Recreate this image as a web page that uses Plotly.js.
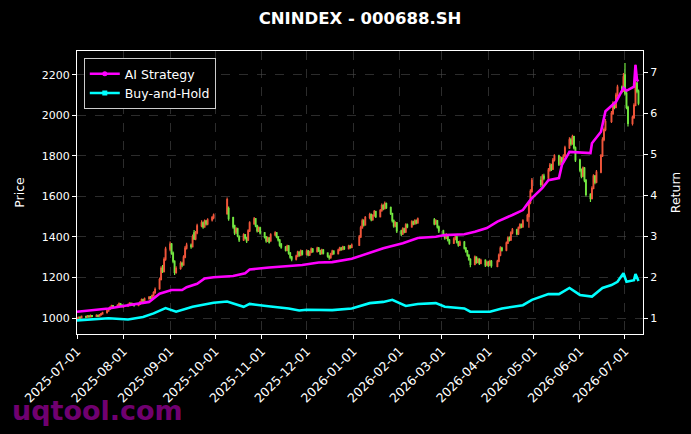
<!DOCTYPE html>
<html>
<head>
<meta charset="utf-8">
<script src="https://cdn.plot.ly/plotly-3.0.1.min.js"></script>
<style>html,body{margin:0;padding:0;background:#000;}#chart{width:691px;height:434px;}</style>
</head>
<body>
<div id="chart"></div>
<script>
// ---- Data ----
const firstDay = '2025-07-01';
const lastDay = '2026-07-10';
const holidays = ['2025-10-01','2025-10-02','2025-10-03','2025-10-06','2025-10-07','2025-10-08',
  '2026-01-01','2026-01-02','2026-02-16','2026-02-17','2026-02-18','2026-02-19','2026-02-20','2026-02-23',
  '2026-04-06','2026-05-01','2026-05-04','2026-05-05','2026-06-19'];

const openPx = [
995,998,1004,1000,1008,1004,1010,1006,1012,1008,1013,1009,1015,1020,1026,1035,1045,1052,1060,1055,1062,1070,1064,
1058,1060,1066,1072,1065,1070,1062,1068,1078,1090,1085,1095,1102,1098,1110,1125,1145,1190,1245,1230,1290,
1340,1365,1320,1280,1225,1245,1270,1262,1300,1345,1360,1352,1420,1390,1420,1455,1470,1450,1478,1465,1484,1495,
1515,1540,1495,1455,1425,1440,1400,1385,1410,1395,1385,1430,1465,1490,1455,1430,1445,
1420,1400,1380,1395,1380,1410,1420,1400,1385,1365,1350,1335,1355,1320,1300,1290,1305,1325,1310,1330,
1315,1330,1312,1325,1340,1328,1345,1332,1318,1335,1320,1305,1298,1315,1330,1318,1335,1345,1338,1350,1342,1355,1348,
1360,1400,1445,1480,1460,1495,1510,1485,1505,1525,1500,1530,1555,1540,1565,1545,1515,1480,1455,1470,
1430,1415,1440,1425,1460,1450,1475,1465,1480,1470,1485,1465,1480,1450,
1430,1410,1395,1410,1385,1370,1390,1400,1375,1360,1375,1345,1330,1310,1290,1265,1300,1275,1290,1270,1285,1262,
1275,1262,1280,1255,1280,1310,1345,1335,1370,1395,1385,1420,1435,1415,1445,1460,1450,1480,1500,1570,1625,
1680,1660,1700,1690,1730,1755,1735,1780,1800,1760,1790,1770,1800,1840,1880,1860,1895,1840,
1780,1730,1700,1740,1680,1610,1590,1640,1700,1670,1720,1800,1880,1930,1970,2010,2060,2040,2100,2140,2120,
2200,2110,2040,1960,1990,2050,2160,2120];

const highPx = [
1004,1008,1007,1012,1011,1015,1013,1017,1015,1018,1016,1020,1025,1031,1040,1050,1058,1066,1064,1068,1076,1074,1068,
1066,1072,1078,1076,1075,1073,1074,1084,1096,1095,1101,1108,1108,1116,1132,1150,1200,1255,1262,1300,1352,
1378,1370,1328,1285,1256,1280,1278,1310,1356,1372,1368,1412,1435,1430,1465,1482,1476,1486,1484,1492,1503,1516,
1595,1550,1500,1460,1448,1445,1408,1418,1415,1400,1438,1478,1498,1494,1460,1452,1450,
1425,1405,1402,1400,1418,1428,1425,1405,1390,1370,1356,1362,1360,1326,1306,1312,1332,1330,1338,1336,
1338,1336,1332,1348,1346,1352,1350,1337,1342,1340,1325,1310,1322,1337,1335,1342,1352,1350,1357,1355,1362,1360,1368,
1410,1455,1490,1488,1504,1520,1516,1512,1533,1530,1538,1565,1562,1575,1570,1550,1520,1486,1478,1474,
1436,1448,1446,1468,1466,1482,1480,1488,1486,1496,1494,1488,1484,1456,
1436,1416,1418,1415,1390,1398,1408,1405,1380,1382,1380,1350,1336,1315,1295,1308,1305,1297,1295,1292,1290,1282,
1282,1288,1286,1288,1318,1354,1352,1378,1404,1402,1428,1444,1440,1452,1468,1466,1488,1515,1578,1635,1691,
1700,1710,1712,1740,1765,1762,1790,1808,1806,1798,1796,1808,1850,1892,1890,1905,1900,1846,
1786,1738,1748,1745,1686,1616,1650,1710,1706,1730,1810,1892,1940,1982,2022,2070,2068,2112,2152,2148,2210,
2259,2118,2048,2000,2060,2250,2168,2128];

const lowPx = [
990,994,995,997,999,1001,1002,1003,1004,1005,1005,1006,1011,1016,1022,1031,1040,1048,1050,1051,1058,1059,1052,
1050,1055,1061,1060,1060,1056,1058,1064,1074,1078,1080,1090,1092,1094,1105,1120,1140,1185,1222,1225,1282,
1330,1312,1270,1212,1218,1238,1250,1258,1295,1338,1342,1348,1385,1384,1414,1448,1440,1445,1456,1458,1476,1488,
1510,1480,1440,1410,1415,1398,1375,1380,1388,1370,1380,1425,1460,1448,1422,1425,1412,
1392,1372,1375,1368,1376,1404,1394,1378,1352,1342,1328,1330,1312,1292,1280,1284,1300,1302,1305,1308,
1309,1305,1306,1320,1322,1323,1326,1311,1313,1314,1298,1288,1293,1310,1312,1313,1330,1332,1334,1336,1338,1342,1344,
1355,1395,1440,1452,1455,1488,1478,1480,1500,1494,1496,1525,1532,1535,1538,1508,1472,1446,1448,1420,
1405,1410,1418,1420,1443,1445,1458,1460,1463,1465,1458,1460,1442,1420,
1402,1386,1390,1378,1362,1365,1384,1368,1352,1355,1338,1322,1302,1282,1250,1260,1268,1270,1262,1265,1252,1256,
1252,1256,1248,1250,1275,1305,1328,1330,1365,1378,1380,1414,1408,1410,1440,1443,1446,1475,1445,1562,1618,
1645,1652,1680,1684,1722,1726,1730,1772,1750,1754,1760,1765,1795,1834,1850,1855,1832,1770,
1720,1690,1695,1670,1600,1573,1585,1635,1660,1665,1715,1795,1872,1922,1962,2002,2030,2035,2092,2110,2115,
2100,2030,1945,1950,1982,2045,2110,2050];

const closePx = [
998,1003,1000,1008,1004,1010,1006,1012,1008,1013,1009,1015,1020,1026,1035,1045,1052,1060,1055,1062,1070,1064,1058,
1060,1066,1072,1065,1070,1062,1068,1078,1090,1085,1095,1102,1098,1110,1125,1140,1190,1245,1230,1290,1340,
1365,1320,1280,1225,1245,1270,1262,1300,1345,1360,1352,1400,1390,1420,1455,1470,1450,1478,1465,1484,1495,1508,
1585,1490,1450,1420,1440,1405,1385,1410,1395,1380,1430,1470,1490,1455,1430,1445,1420,
1400,1380,1395,1375,1410,1420,1400,1385,1360,1350,1335,1355,1320,1300,1290,1305,1325,1310,1330,1315,
1330,1312,1325,1340,1328,1345,1332,1318,1335,1320,1305,1298,1315,1330,1318,1335,1345,1338,1350,1342,1355,1348,1360,
1400,1445,1480,1460,1495,1510,1485,1505,1525,1500,1530,1555,1540,1565,1545,1515,1480,1455,1470,1430,
1415,1440,1425,1460,1450,1475,1465,1480,1470,1490,1465,1480,1450,1430,
1410,1395,1410,1385,1370,1390,1400,1375,1360,1375,1345,1330,1310,1290,1265,1300,1275,1290,1270,1285,1262,1275,
1260,1280,1258,1280,1310,1345,1335,1370,1395,1385,1420,1435,1415,1445,1460,1450,1480,1505,1570,1625,1680,
1660,1700,1690,1730,1755,1735,1780,1800,1760,1790,1770,1800,1840,1880,1860,1895,1840,1780,
1730,1700,1740,1680,1610,1590,1640,1700,1670,1720,1800,1880,1930,1970,2010,2060,2040,2100,2140,2120,2190,
2110,2040,1960,1990,2050,2160,2120,2060];

const aiDates = ['2025-07-01','2025-07-22','2025-08-01','2025-08-11','2025-08-18','2025-08-25','2025-09-02','2025-09-09',
  '2025-09-12','2025-09-19','2025-09-24','2025-09-30','2025-10-13','2025-10-21','2025-10-24','2025-11-06','2025-11-28',
  '2025-12-09','2025-12-18','2025-12-31','2026-01-12','2026-01-21','2026-02-03','2026-02-13','2026-02-25','2026-03-03',
  '2026-03-16','2026-03-23','2026-03-31','2026-04-07','2026-04-17','2026-04-24','2026-04-28','2026-04-30','2026-05-07',
  '2026-05-11','2026-05-18','2026-05-20','2026-05-25','2026-06-01','2026-06-08','2026-06-09','2026-06-15','2026-06-18',
  '2026-06-22','2026-06-25','2026-06-30','2026-07-02','2026-07-07','2026-07-08','2026-07-09','2026-07-10'];
const aiReturn = [1.16,1.24,1.30,1.35,1.40,1.60,1.69,1.69,1.76,1.84,1.97,2.00,2.03,2.10,2.19,2.24,2.30,2.36,2.37,2.45,
  2.59,2.71,2.83,2.96,2.99,3.03,3.05,3.11,3.20,3.36,3.52,3.64,3.84,3.93,4.18,4.37,4.42,4.74,5.06,5.04,5.03,5.27,5.55,
  6.05,6.18,6.28,6.62,6.55,6.65,7.18,6.81,6.78];

const bhDates = ['2025-07-01','2025-07-22','2025-08-04','2025-08-14','2025-08-21','2025-08-29','2025-09-05','2025-09-12',
  '2025-09-16','2025-09-30','2025-10-09','2025-10-20','2025-10-24','2025-11-04','2025-11-19','2025-11-26','2025-12-01',
  '2025-12-18','2025-12-31','2026-01-12','2026-01-21','2026-01-27','2026-02-05','2026-02-13','2026-02-25','2026-03-03',
  '2026-03-16','2026-03-20','2026-04-02','2026-04-10','2026-04-24','2026-04-30','2026-05-11','2026-05-18','2026-05-25',
  '2026-06-01','2026-06-09','2026-06-16','2026-06-22','2026-06-26','2026-06-30','2026-07-02','2026-07-07','2026-07-08',
  '2026-07-10'];
const bhReturn = [0.95,1.00,0.97,1.03,1.12,1.25,1.16,1.23,1.28,1.38,1.41,1.28,1.35,1.30,1.24,1.19,1.21,1.20,1.24,1.37,
  1.40,1.45,1.30,1.35,1.37,1.28,1.24,1.16,1.16,1.24,1.32,1.45,1.59,1.59,1.74,1.57,1.53,1.74,1.81,1.89,2.10,1.89,1.93,
  2.08,1.91];

const chartTitle = 'CNINDEX - 000688.SH';
const watermark = 'uqtool.com';

// ---- trading calendar (weekdays minus exchange holidays) ----
const tradeDates = [];
for (let d = new Date(firstDay + 'T00:00:00Z'); d <= new Date(lastDay + 'T00:00:00Z'); d.setUTCDate(d.getUTCDate() + 1)) {
  const wd = d.getUTCDay();
  const s = d.toISOString().slice(0, 10);
  if (wd !== 0 && wd !== 6 && holidays.indexOf(s) < 0) tradeDates.push(s);
}

const UP = '#f0553a', DOWN = '#72e640';
const traces = [
  {type: 'candlestick', x: tradeDates, open: openPx, high: highPx, low: lowPx, close: closePx,
   increasing: {line: {color: UP, width: 1.2}, fillcolor: UP},
   decreasing: {line: {color: DOWN, width: 1.2}, fillcolor: DOWN},
   whiskerwidth: 0, showlegend: false, hoverinfo: 'skip'},
  {type: 'scatter', mode: 'lines', x: aiDates, y: aiReturn, yaxis: 'y2',
   line: {color: '#ff00ff', width: 2.6}, showlegend: false},
  {type: 'scatter', mode: 'lines', x: bhDates, y: bhReturn, yaxis: 'y2',
   line: {color: '#00ffff', width: 2.6}, showlegend: false},
  {type: 'scatter', mode: 'lines+markers', x: [null], y: [null], yaxis: 'y2', name: 'AI Strategy',
   line: {color: '#ff00ff', width: 2.6}, marker: {color: '#ff00ff', size: 5, symbol: 'circle'}},
  {type: 'scatter', mode: 'lines+markers', x: [null], y: [null], yaxis: 'y2', name: 'Buy-and-Hold',
   line: {color: '#00ffff', width: 2.6}, marker: {color: '#00ffff', size: 5, symbol: 'square'}}
];

const gridStyle = {showgrid: true, gridcolor: '#4a4a4a', griddash: 'dash', gridwidth: 0.6};
const layout = {
  width: 691, height: 434,
  paper_bgcolor: '#000', plot_bgcolor: '#000',
  margin: {l: 77, r: 48, t: 51, b: 100},
  font: {family: 'DejaVu Sans', color: '#fff', size: 11},
  title: {text: chartTitle, x: 0.5, xref: 'paper', xanchor: 'center', y: 1 - 18 / 434, yref: 'container', yanchor: 'middle',
          font: {family: 'DejaVu Sans', size: 16.5, weight: 'bold', color: '#fff'}},
  xaxis: Object.assign({type: 'date', range: ['2025-07-01', '2026-07-13'], tickformat: '%Y-%m-%d', dtick: 'M1',
    tick0: '2025-07-01', tickangle: -45, ticks: 'outside', ticklen: 4, tickcolor: '#fff',
    showline: true, linecolor: '#fff', linewidth: 1, mirror: true, zeroline: false,
    rangeslider: {visible: false}, tickfont: {size: 12.5, color: '#fff'}}, gridStyle),
  yaxis: Object.assign({range: [921, 2318], tick0: 1000, dtick: 200, ticks: 'outside', ticklen: 4, tickcolor: '#fff',
    showline: true, linecolor: '#fff', linewidth: 1, mirror: true, zeroline: false,
    tickfont: {size: 11, color: '#fff'},
    title: {text: 'Price', font: {size: 12.5, color: '#fff'}, standoff: 14}}, gridStyle),
  yaxis2: {overlaying: 'y', side: 'right', range: [0.617, 7.52], tick0: 1, dtick: 1, ticks: 'outside', ticklen: 4,
    tickcolor: '#fff', showline: true, linecolor: '#fff', linewidth: 1, showgrid: false, zeroline: false,
    tickfont: {size: 11, color: '#fff'},
    title: {text: 'Return', font: {size: 12.5, color: '#fff'}, standoff: 15}},
  legend: {x: 0.012, y: 0.975, xanchor: 'left', yanchor: 'top', bgcolor: '#000', bordercolor: '#cccccc', borderwidth: 1,
    font: {size: 12.5, color: '#fff'}},
  annotations: [{text: watermark, xref: 'paper', yref: 'paper', x: (97.5 - 77) / 566, y: (334 - 410) / 283,
    xanchor: 'center', yanchor: 'middle', showarrow: false,
    font: {family: 'DejaVu Sans', size: 27, weight: 'bold', color: 'rgba(128,0,128,0.9)'}}]
};

Plotly.newPlot('chart', traces, layout, {displayModeBar: false, staticPlot: true});
</script>
</body>
</html>
